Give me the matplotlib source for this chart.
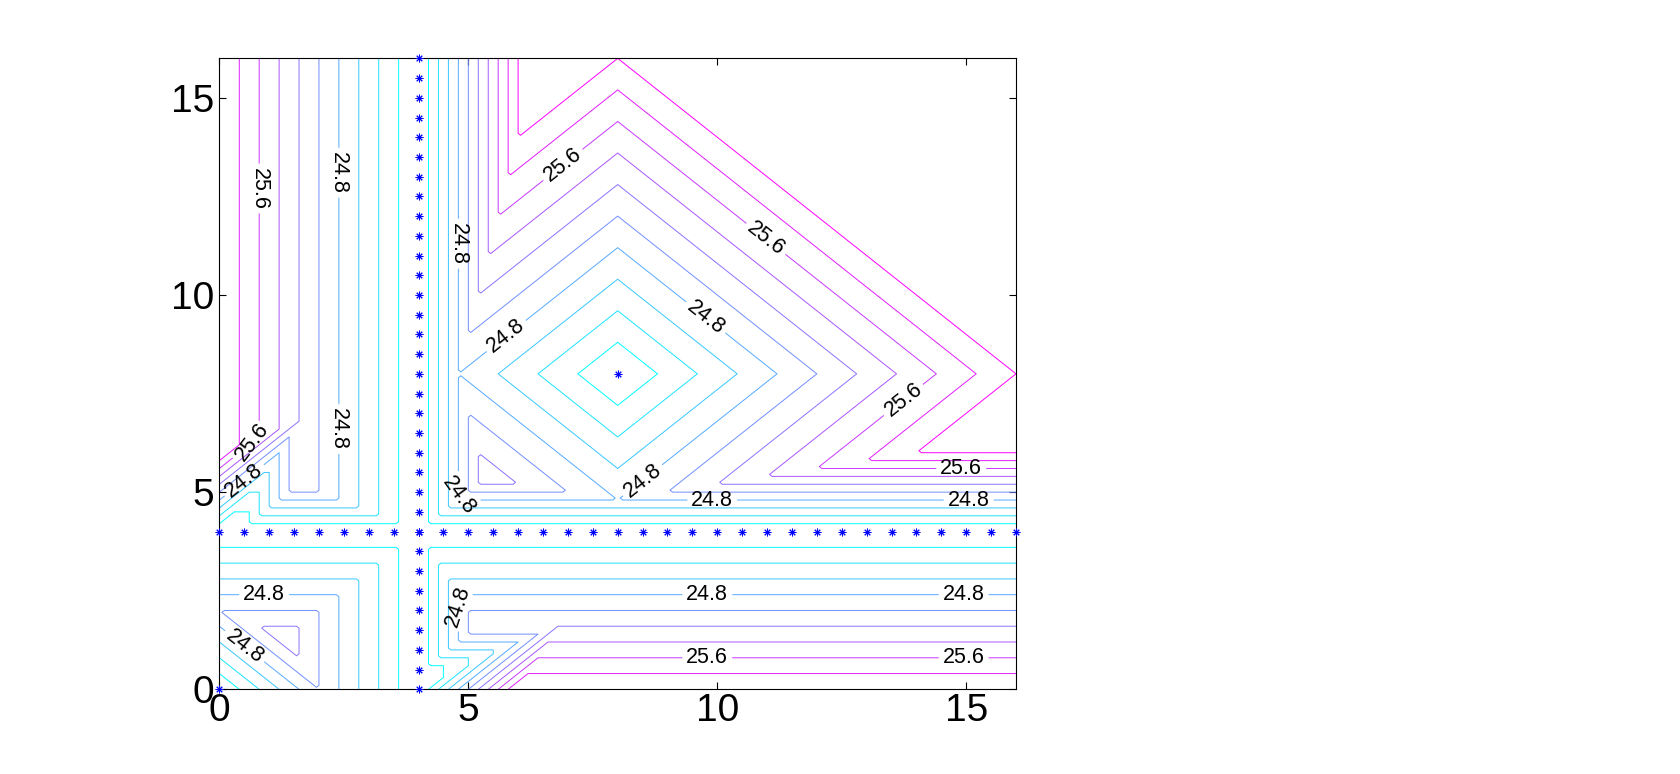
import matplotlib
matplotlib.use("Agg")
import matplotlib.pyplot as plt
import numpy as np

plt.rcParams["font.family"] = ["Liberation Sans", "DejaVu Sans"]

# star markers: the two search lines and the two single points
LINE_X = 4.0
LINE_Y = 4.0
STAR_STEPS = [0, 0.5, 1, 1.5, 2, 2.5, 3, 3.5, 4, 4.5, 5, 5.5, 6, 6.5, 7, 7.5, 8,
              8.5, 9, 9.5, 10, 10.5, 11, 11.5, 12, 12.5, 13, 13.5, 14, 14.5,
              15, 15.5, 16]
POINT_X = [8.0, 0.0]
POINT_Y = [8.0, 0.0]

# field model: base value, slopes either side of the lines,
# diamond around (8, 8), diagonal around (0, 0)
BASE = 24.0
SLOPE_NEAR = 1.0
SLOPE_FAR = 0.5
CENTER = (8.0, 8.0)
CENTER_SLOPE = 0.25
ORIGIN_SLOPE = 0.5
RIDGE_OFFSET = 0.4
RIDGE_FLOOR = 0.4

LEVELS = [24.2, 24.4, 24.6, 24.8, 25.0, 25.2, 25.4, 25.6, 25.8, 26.0]
LABEL_LEVELS = [24.8, 25.6]
LABEL_POS = [
    (0.75, 12.7), (2.37, 13.1), (4.78, 11.3), (6.9, 13.3), (10.9, 11.3),
    (5.8, 8.9), (9.75, 9.4), (2.37, 6.6), (0.7, 6.2), (0.5, 5.3),
    (13.7, 7.4), (14.9, 5.6), (15.05, 4.8), (9.9, 4.8), (8.5, 5.3),
    (4.7, 4.9), (0.9, 2.4), (0.45, 1.0), (4.75, 2.1), (9.8, 2.4),
    (14.95, 2.4), (9.8, 0.8), (14.95, 0.8),
]


def field(X, Y):
    u = X - LINE_X
    v = Y - LINE_Y
    Z = np.zeros_like(X)

    tr = (u >= 0) & (v >= 0)
    r = np.abs(X - CENTER[0]) + np.abs(Y - CENTER[1])
    Z[tr] = np.minimum.reduce([SLOPE_NEAR * u, SLOPE_NEAR * v, CENTER_SLOPE * r])[tr]

    bl = (u < 0) & (v < 0)
    Z[bl] = np.minimum.reduce([-SLOPE_FAR * u, -SLOPE_FAR * v,
                               ORIGIN_SLOPE * (X + Y)])[bl]

    br = (u >= 0) & (v < 0)
    wedge = np.maximum.reduce([u - Y, Y - RIDGE_OFFSET, RIDGE_FLOOR * u])
    Z[br] = np.minimum.reduce([SLOPE_NEAR * u, -SLOPE_FAR * v, wedge])[br]

    tl = (u < 0) & (v >= 0)
    wedge = np.maximum.reduce([v - X, X - RIDGE_OFFSET, RIDGE_FLOOR * v])
    Z[tl] = np.minimum.reduce([SLOPE_NEAR * v, -SLOPE_FAR * u, wedge])[tl]
    return BASE + Z


gx = np.linspace(0, 16, 321)
X, Y = np.meshgrid(gx, gx)
Z = field(X, Y)

fig = plt.figure(figsize=(16.81, 7.74), dpi=100)
ax = fig.add_axes([0.1305, 0.1094, 0.4739, 0.8152])

plain = [lv for lv in LEVELS if lv not in LABEL_LEVELS]
style = dict(cmap="cool", vmin=LEVELS[0], vmax=LEVELS[-1], linewidths=0.7)
ax.contour(X, Y, Z, levels=plain, **style)
cs = ax.contour(X, Y, Z, levels=LABEL_LEVELS, **style)
ax.clabel(cs, manual=LABEL_POS, inline=True, inline_spacing=4,
          fontsize=15.5, fmt="%.1f", colors="k")

steps = np.array(STAR_STEPS)
star = dict(marker=(8, 2, 0), markersize=5.5, markeredgewidth=0.7,
            color="#0000ff", linestyle="none", clip_on=False, zorder=5)
ax.plot(np.full_like(steps, LINE_X), steps, **star)
ax.plot(steps, np.full_like(steps, LINE_Y), **star)
ax.plot(POINT_X, POINT_Y, **star)

ax.set_xlim(0, 16)
ax.set_ylim(0, 16)
ax.set_xticks([0, 5, 10, 15])
ax.set_yticks([0, 5, 10, 15])
ax.tick_params(direction="in", length=5, width=0.8, top=True, right=True,
               labelsize=28)
ax.tick_params(axis="x", pad=3)
ax.tick_params(axis="y", pad=4)
for s in ax.spines.values():
    s.set_linewidth(0.8)

fig.savefig("out.png", dpi=100)
